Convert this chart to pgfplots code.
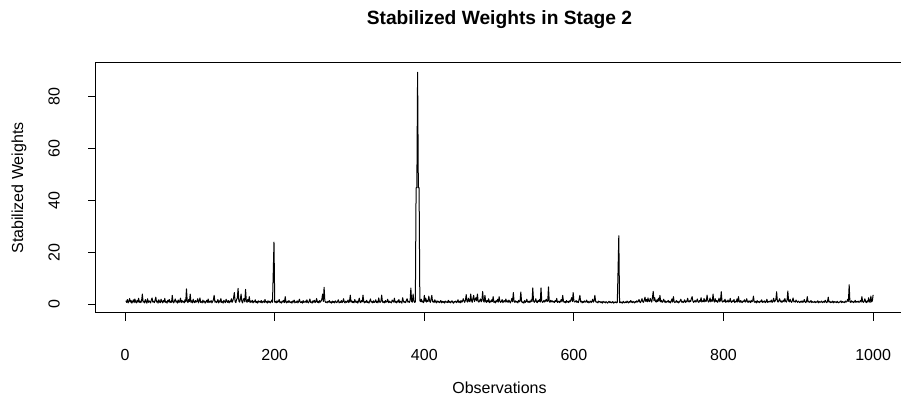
\documentclass[border=0pt]{standalone}
\usepackage{fontspec}
\setmainfont{Liberation Sans}
\usepackage{pgfplots}
\pgfplotsset{compat=1.18}
\begin{document}
\begin{tikzpicture}[x=1pt,y=1pt]
\useasboundingbox (0,0) rectangle (675.75,301.5);
\begin{axis}[
 at={(72pt,66.75pt)}, anchor=south west,
 scale only axis, width=605.25pt, height=187.5pt,
 xmin=-38.96, xmax=1039.96, ymin=-3.3, ymax=93.1,
 axis line style={line width=0.75pt},
 xtick={0,200,...,1000}, ytick={0,20,...,80},
 tick align=outside, tick pos=left, major tick length=6pt,
 every tick/.style={black, line width=0.75pt},
 /pgf/number format/assume math mode=true,
 /pgf/number format/1000 sep={},
 tick label style={font=\fontsize{12}{14}\selectfont},
 xticklabel style={anchor=center, yshift=-25.5pt},
 yticklabel style={anchor=center, xshift=-25.5pt, rotate=90},
]
\addplot[black, line width=0.75pt, line join=round, mark=none] table[x expr=\coordindex+1, y index=0, row sep=\\, header=false] {
1.4\\0.8\\1.9\\0.6\\1.2\\2.3\\0.9\\1.5\\0.5\\1.1\\1.8\\0.7\\2.1\\1.0\\0.6\\1.6\\0.9\\2.4\\0.8\\1.3\\
0.7\\1.5\\4.0\\0.9\\1.2\\0.6\\1.9\\1.1\\0.5\\2.2\\0.8\\1.4\\1.0\\0.6\\1.7\\2.5\\0.9\\1.2\\0.7\\1.6\\
2.8\\0.9\\1.3\\0.5\\1.8\\1.0\\0.7\\2.0\\1.2\\0.6\\1.5\\0.9\\2.3\\0.8\\1.1\\0.5\\1.6\\1.0\\1.9\\0.7\\
1.2\\0.8\\3.5\\1.0\\0.6\\1.4\\2.1\\0.9\\1.3\\0.5\\1.7\\0.8\\1.1\\2.4\\0.7\\1.5\\0.9\\1.2\\0.6\\1.8\\
1.0\\6.0\\1.3\\0.7\\1.9\\1.1\\4.0\\0.8\\1.4\\0.6\\2.0\\1.0\\0.7\\1.5\\0.9\\1.2\\2.2\\0.6\\1.3\\2.5\\
0.8\\1.1\\0.6\\1.7\\0.9\\1.3\\0.5\\1.0\\1.6\\0.8\\2.1\\0.7\\1.2\\0.9\\1.5\\0.6\\1.1\\1.8\\3.5\\0.9\\
1.3\\0.7\\1.0\\1.9\\0.6\\1.4\\0.9\\2.3\\0.8\\1.1\\0.5\\1.6\\1.0\\0.7\\2.0\\1.2\\0.8\\1.5\\0.6\\1.3\\
1.0\\2.2\\0.8\\1.4\\2.6\\4.6\\1.1\\0.7\\1.9\\2.4\\6.2\\1.3\\0.9\\2.0\\4.0\\1.2\\0.6\\1.8\\2.3\\1.0\\
5.8\\1.4\\0.8\\1.9\\1.1\\3.0\\0.7\\1.3\\0.9\\1.6\\0.6\\1.2\\1.0\\1.8\\0.7\\1.1\\0.5\\1.4\\0.9\\1.2\\
0.8\\1.5\\0.6\\1.0\\1.3\\0.7\\1.9\\0.9\\1.1\\0.5\\1.4\\0.8\\1.2\\0.6\\1.0\\1.7\\0.8\\12.0\\24.0\\0.9\\
1.1\\0.6\\1.4\\0.8\\1.2\\1.9\\0.7\\1.0\\0.5\\1.3\\0.9\\1.6\\0.7\\3.0\\1.0\\0.6\\1.2\\0.8\\1.5\\0.9\\
0.7\\1.1\\0.5\\1.3\\0.9\\1.7\\0.6\\1.0\\0.8\\1.4\\0.6\\1.2\\2.0\\0.9\\0.7\\1.1\\0.5\\1.5\\0.8\\1.0\\
1.3\\0.7\\1.8\\0.9\\0.6\\1.2\\2.1\\0.8\\1.0\\0.5\\1.4\\0.9\\1.6\\0.7\\1.1\\2.3\\0.8\\1.2\\0.6\\1.5\\
0.9\\1.3\\2.0\\4.0\\1.1\\6.6\\1.4\\0.8\\1.0\\0.6\\1.2\\0.9\\1.5\\0.7\\1.0\\0.5\\1.3\\0.8\\1.1\\0.6\\
1.4\\0.9\\0.7\\1.2\\1.8\\0.6\\1.0\\0.8\\1.5\\0.7\\1.1\\2.2\\0.9\\0.6\\1.3\\0.8\\1.0\\1.7\\0.7\\1.2\\
3.6\\0.9\\1.4\\0.7\\1.1\\0.6\\1.9\\1.0\\0.8\\1.3\\0.5\\1.2\\2.4\\0.9\\0.7\\1.5\\1.0\\3.6\\1.1\\0.6\\
1.2\\0.8\\1.6\\0.7\\1.0\\0.5\\1.3\\2.1\\0.9\\1.1\\0.6\\1.4\\0.8\\1.0\\1.8\\0.7\\1.2\\0.6\\2.5\\1.0\\
0.8\\1.3\\3.6\\1.0\\0.7\\1.2\\0.6\\1.5\\0.9\\1.1\\2.0\\0.7\\1.3\\0.8\\1.0\\0.6\\1.7\\1.2\\0.9\\2.4\\
0.8\\1.1\\0.6\\1.4\\0.9\\1.9\\0.7\\1.2\\1.0\\0.5\\2.6\\1.3\\0.8\\1.1\\0.7\\1.6\\2.2\\0.9\\1.2\\0.8\\
1.5\\6.3\\1.1\\0.9\\4.0\\1.3\\0.8\\1.0\\45.0\\45.0\\89.5\\45.0\\45.0\\1.4\\1.1\\2.0\\0.9\\1.3\\0.7\\3.5\\
1.2\\2.4\\0.9\\1.6\\1.1\\3.2\\1.4\\0.8\\2.0\\3.5\\1.0\\1.3\\0.7\\1.8\\1.1\\0.6\\1.4\\0.9\\1.2\\0.7\\
1.0\\1.5\\0.6\\1.2\\0.8\\1.1\\0.5\\1.3\\0.9\\1.0\\0.7\\1.6\\0.8\\1.2\\0.6\\1.0\\1.4\\0.8\\0.5\\1.1\\
0.9\\1.3\\0.7\\1.0\\1.8\\0.8\\1.2\\0.6\\1.5\\0.9\\1.1\\2.2\\1.4\\0.8\\1.7\\3.8\\1.2\\0.9\\2.4\\1.3\\
1.0\\4.0\\1.6\\0.8\\2.3\\3.5\\1.1\\1.9\\2.6\\1.4\\4.0\\1.2\\0.9\\1.5\\2.1\\1.0\\1.7\\5.0\\1.3\\0.9\\
3.5\\1.2\\0.8\\1.6\\1.0\\2.2\\0.7\\1.3\\0.9\\1.8\\1.1\\3.0\\0.8\\1.2\\0.6\\1.5\\1.0\\2.0\\0.9\\3.0\\
1.3\\0.8\\1.1\\1.9\\0.7\\1.2\\1.5\\0.9\\2.1\\1.0\\1.4\\0.8\\1.7\\1.1\\0.6\\1.3\\2.3\\1.0\\4.6\\1.2\\
0.8\\1.4\\0.9\\1.1\\0.6\\1.6\\1.0\\1.3\\4.8\\1.2\\0.7\\1.0\\0.5\\1.5\\0.8\\1.1\\2.0\\0.9\\1.2\\0.7\\
1.3\\0.9\\1.8\\1.1\\6.4\\1.4\\0.8\\1.2\\2.2\\1.0\\0.7\\1.5\\1.1\\1.9\\0.9\\6.4\\1.3\\0.8\\1.0\\1.6\\
0.9\\1.4\\2.0\\1.1\\1.3\\6.8\\1.2\\0.8\\1.6\\1.0\\1.4\\0.9\\1.2\\0.7\\1.5\\1.1\\2.3\\0.8\\1.0\\1.3\\
0.7\\1.2\\1.9\\1.0\\3.5\\1.3\\0.8\\1.1\\0.6\\1.5\\0.9\\1.2\\0.7\\1.4\\1.0\\1.8\\2.6\\1.1\\4.6\\1.3\\
0.9\\1.1\\1.5\\0.8\\1.2\\0.7\\2.1\\3.5\\1.0\\1.3\\0.6\\1.1\\0.8\\1.4\\0.9\\1.0\\1.7\\0.8\\1.2\\0.6\\
1.0\\1.3\\0.7\\1.1\\2.0\\0.9\\1.4\\3.5\\1.2\\0.8\\1.0\\0.6\\1.3\\0.9\\1.1\\0.7\\1.0\\0.5\\1.2\\0.8\\
1.0\\0.6\\1.1\\0.8\\0.5\\0.9\\1.2\\0.7\\1.0\\0.6\\0.8\\1.1\\0.5\\0.9\\0.7\\1.0\\0.6\\0.8\\13.0\\26.5\\
0.7\\1.0\\0.6\\0.9\\0.5\\1.2\\0.8\\0.6\\1.0\\0.7\\1.3\\0.9\\0.6\\1.1\\0.8\\1.5\\1.0\\0.7\\1.2\\0.9\\
0.6\\1.1\\0.8\\1.4\\0.9\\1.2\\1.9\\1.0\\0.7\\1.3\\2.2\\1.1\\0.8\\1.6\\2.8\\1.2\\1.9\\1.0\\2.5\\1.3\\
1.1\\2.3\\1.5\\0.9\\2.7\\5.0\\1.4\\2.6\\1.2\\0.9\\1.8\\1.1\\2.4\\1.3\\3.5\\1.0\\1.6\\0.8\\1.2\\2.0\\
0.9\\1.4\\0.7\\1.1\\1.0\\1.6\\0.8\\1.2\\0.6\\1.3\\2.1\\0.9\\3.0\\1.1\\0.7\\1.0\\1.5\\0.8\\1.2\\0.6\\
1.0\\1.4\\2.0\\0.9\\1.2\\0.7\\1.1\\1.8\\0.8\\1.3\\1.0\\2.4\\1.2\\0.9\\1.5\\1.1\\2.2\\3.0\\1.3\\0.8\\
1.1\\1.6\\0.9\\1.3\\2.1\\1.0\\0.8\\1.5\\1.2\\2.6\\0.9\\1.4\\1.1\\2.3\\1.0\\1.7\\1.2\\3.6\\1.5\\0.9\\
1.3\\2.5\\1.0\\1.8\\1.2\\4.0\\1.4\\0.9\\2.2\\1.1\\1.5\\0.8\\1.3\\2.4\\1.0\\1.6\\4.9\\1.2\\0.9\\1.4\\
1.1\\2.0\\0.8\\1.3\\1.0\\1.7\\0.9\\1.2\\2.3\\1.0\\0.8\\1.4\\1.1\\1.9\\0.7\\1.2\\1.0\\2.1\\0.9\\3.0\\
1.2\\0.8\\1.5\\1.0\\0.7\\1.3\\1.1\\1.8\\0.9\\1.2\\2.2\\1.0\\0.8\\1.4\\1.1\\0.7\\1.6\\1.0\\1.3\\3.2\\
1.0\\0.8\\1.2\\0.6\\1.5\\0.9\\1.1\\0.7\\1.3\\1.0\\1.8\\0.8\\1.2\\0.9\\1.4\\0.7\\1.0\\2.0\\0.8\\1.1\\
0.9\\1.3\\1.0\\1.7\\0.8\\1.2\\2.4\\1.0\\1.3\\1.9\\4.9\\1.2\\0.9\\1.5\\2.2\\1.0\\1.4\\0.8\\1.1\\1.7\\
1.0\\2.3\\1.2\\0.9\\1.6\\5.2\\1.3\\1.0\\2.0\\1.1\\0.8\\1.4\\2.5\\1.0\\1.2\\0.9\\1.7\\1.1\\0.8\\1.3\\
1.0\\0.7\\1.2\\0.9\\1.4\\0.8\\1.1\\1.9\\1.0\\0.7\\1.3\\3.0\\0.9\\1.2\\0.8\\1.0\\1.5\\0.7\\1.1\\0.9\\
0.8\\1.2\\0.7\\1.0\\0.9\\1.4\\0.6\\1.1\\0.8\\1.0\\1.3\\0.7\\0.9\\1.2\\0.8\\1.6\\1.0\\0.7\\1.1\\2.8\\
0.9\\1.2\\0.7\\1.0\\0.8\\1.3\\0.6\\1.1\\0.9\\1.0\\0.7\\1.2\\0.8\\0.6\\1.0\\0.9\\1.4\\0.7\\1.1\\0.8\\
1.0\\0.7\\1.3\\0.9\\1.1\\2.0\\1.2\\7.6\\1.0\\0.8\\1.4\\0.9\\1.2\\0.7\\1.0\\1.6\\0.8\\1.1\\0.9\\1.3\\
0.8\\1.0\\1.5\\0.9\\3.0\\1.1\\0.8\\1.2\\2.2\\1.0\\0.7\\1.4\\0.9\\2.6\\1.1\\0.8\\3.2\\1.0\\1.4\\3.7\\
};
\end{axis}
\node[font=\fontsize{12}{14}\selectfont] at (374.6,10.5) {Observations};
\node[rotate=90, font=\fontsize{12}{14}\selectfont] at (14.25,160.5) {Stabilized Weights};
\node[font=\fontsize{14.4}{17}\selectfont\bfseries] at (374.6,286.5) {Stabilized Weights in Stage 2};
\end{tikzpicture}
\end{document}
